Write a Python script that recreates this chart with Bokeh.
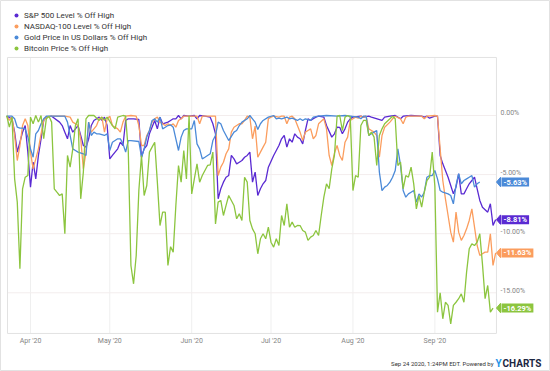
from datetime import datetime, timedelta
from bokeh.plotting import figure
from bokeh.models import Range1d, Label, PolyAnnotation, Legend, LegendItem
from bokeh.core.properties import value
from bokeh.embed import file_html
from bokeh.resources import INLINE

# ---------------- data ----------------
START = datetime(2020, 3, 23)          # day 0 of the series below
NAMES = ["S&P 500 Level % Off High", "NASDAQ-100 Level % Off High",
         "Gold Price in US Dollars % Off High", "Bitcoin Price % Off High"]
COLORS = ["#5a2ad2", "#fb9d5e", "#4b8ad8", "#8cc53f"]
Y_TICKS = [0, -5, -10, -15]
MONTH_TICKS = [datetime(2020, m, 1) for m in range(4, 10)]
FOOTER = "Sep 24 2020, 1:24PM EDT. Powered by"

# (days since START, % off high)
spx = [(0,-0.06),(2,-0.28),(3,-1.41),(4,-3.1),(5,-2.26),(6,-1.41),(7,-0.85),(8,-3.1),(9,-6.06),(10,-3.95),
       (11,-5.36),(12,-3.38),(13,-1.97),(14,-0.42),(15,-0.14),(17,-0.06),(20,-0.56),(21,-0.85),(22,-1.41),(23,-1.97),
       (24,-0.85),(25,-1.41),(27,-0.85),(28,-1.69),(29,-2.54),(30,-2.68),(31,-2.0),(32,-0.85),(33,-0.42),(35,-0.14),
       (36,-0.42),(37,-0.14),(38,-0.85),(39,-3.67),(40,-3.38),(42,-2.82),(43,-2.26),(44,-2.54),(45,-0.42),(46,-0.28),
       (48,-0.28),(50,-0.34),(51,-3.53),(52,-2.82),(53,-2.54),(54,-1.55),(56,-0.42),(57,-1.13),(58,-0.14),(59,-0.7),
       (61,-0.56),(62,-0.42),(63,-0.28),(64,-0.28),(65,0),(66,-0.28),(67,0),(69,-0.06),(71,0),(72,-0.28),
       (73,0),(75,-0.06),(77,-0.14),(78,-0.7),(79,-1.55),(80,-7.05),(81,-6.2),(82,-5.64),(83,-5.22),(84,-5.08),
       (85,-3.38),(86,-3.67),(87,-4.09),(88,-3.95),(89,-3.81),(90,-3.53),(91,-3.38),(92,-3.1),(93,-5.64),(94,-4.79),
       (95,-6.77),(96,-6.2),(97,-5.78),(98,-5.5),(99,-4.37),(101,-3.38),(102,-2.96),(103,-2.54),(104,-1.97),(105,-1.69),
       (106,-2.68),(107,-1.97),(108,-2.26),(109,-1.55),(110,-1.83),(111,-1.97),(112,-2.4),(113,-1.27),(114,-0.28),(115,-0.42),
       (116,-0.28),(117,-0.14),(118,-0.06),(120,-0.14),(121,-0.85),(123,-1.83),(124,-1.55),(125,-0.99),(126,-1.0),(127,-1.55),
       (128,-1.13),(129,-0.56),(130,-0.28),(131,-0.14),(134,-0.06),(135,-0.14),(137,-0.06),(138,-0.14),(142,-0.42),(143,-0.14),
       (145,-0.06),(147,0),(149,-0.28),(150,-0.06),(153,0),(157,-0.06),(158,-0.14),(159,-0.06),(160,-0.23),(162,-0.06),
       (163,-0.06),(164,-3.38),(165,-4.09),(166,-4.65),(167,-5.22),(168,-5.92),(169,-6.63),(170,-6.06),(171,-4.93),(172,-6.63),
       (173,-6.63),(174,-6.2),(175,-5.78),(176,-5.5),(177,-5.22),(178,-6.2),(179,-7.19),(180,-7.76),(182,-8.18),(183,-7.47),
       (184,-9.31),(185,-8.81)]

ndx = [(0,-0.06),(1,-0.42),(2,-0.14),(3,-1.69),(4,-3.81),(5,-2.54),(6,-0.85),(7,-0.28),(8,-0.85),(9,-3.1),
       (10,-4.51),(11,-3.67),(12,-2.82),(13,-1.55),(14,-0.42),(15,-0.14),(17,-0.06),(22,-0.06),(24,-0.14),(25,-0.56),
       (27,-0.85),(28,-1.97),(29,-4.51),(30,-3.1),(31,-0.56),(32,-1.41),(34,-0.85),(35,-0.28),(36,-0.14),(37,-1.41),
       (38,-0.28),(39,-0.06),(40,-0.85),(42,-1.13),(43,-1.41),(44,-0.56),(45,-0.06),(47,0),(49,-0.06),(50,-0.85),
       (51,-2.54),(52,-2.54),(53,-1.69),(54,-1.27),(55,-0.56),(56,-0.28),(57,-0.14),(58,-0.56),(60,-0.85),(61,-0.7),
       (62,-0.85),(63,-0.7),(64,-0.99),(65,-0.42),(66,-0.28),(67,-0.06),(72,-0.06),(73,-0.7),(74,-0.06),(79,-0.06),
       (80,-5.08),(81,-4.37),(82,-3.95),(83,-3.24),(84,-2.82),(85,-1.41),(86,-0.99),(88,-0.7),(89,-0.7),(90,-0.42),
       (91,-0.06),(92,-0.14),(93,-1.97),(94,-0.9),(95,-3.53),(96,-3.1),(97,-2.68),(98,-2.26),(99,-0.28),(100,-0.14),
       (101,-0.06),(103,-0.14),(104,-0.06),(105,-0.06),(106,-0.7),(107,-0.14),(108,-0.06),(109,-0.28),(110,-0.85),(111,-1.41),
       (112,-2.12),(113,-1.41),(114,-1.27),(115,-1.13),(116,-1.97),(117,-1.69),(118,-0.7),(120,-0.28),(121,-1.13),(122,-3.38),
       (123,-4.23),(124,-3.2),(125,-2.54),(126,-3.38),(127,-3.81),(128,-2.26),(129,-1.83),(130,-0.42),(131,-0.28),(132,-0.14),
       (133,-0.23),(134,-0.06),(135,-0.14),(136,-0.06),(137,-1.13),(138,-1.27),(139,-1.41),(140,-1.69),(141,-3.53),(142,-1.69),
       (143,-0.99),(145,-0.56),(146,-0.28),(147,-0.06),(149,-0.28),(150,-0.7),(151,-0.14),(152,-0.06),(157,-0.06),(158,-0.28),
       (159,-0.06),(162,0),(163,-0.06),(164,-2.82),(165,-5.5),(166,-7.05),(167,-8.46),(168,-9.87),(169,-10.72),(170,-8.18),
       (171,-9.87),(172,-10.57),(173,-10.15),(174,-9.59),(175,-8.88),(176,-7.9),(177,-9.45),(178,-11.0),(179,-11.84),(180,-11.7),
       (181,-11.56),(182,-11.56),(183,-10.01),(184,-12.69),(185,-11.63)]

gold = [(0,-0.06),(2,-0.06),(3,-0.28),(4,-0.99),(5,-1.07),(6,-1.07),(7,-1.13),(8,-1.83),(9,-2.82),(10,-3.53),
        (11,-1.55),(12,-1.27),(13,-0.7),(14,-0.28),(15,-0.06),(22,-0.06),(23,-0.56),(25,-2.82),(26,-2.96),(27,-3.1),
        (29,-3.24),(30,-3.38),(31,-0.56),(32,-1.69),(33,-1.41),(34,-1.55),(35,-1.55),(37,-1.69),(38,-1.55),(39,-2.96),
        (40,-2.26),(42,-1.97),(43,-1.97),(44,-2.4),(45,-3.1),(46,-2.12),(47,-2.12),(50,-2.2),(51,-3.53),(52,-2.82),
        (53,-1.83),(54,-1.27),(55,-0.42),(56,-0.28),(57,-0.56),(58,-0.14),(59,-1.13),(60,-0.99),(61,-0.85),(62,-0.79),
        (63,-0.99),(64,-1.97),(65,-2.96),(66,-1.83),(67,-1.27),(68,-1.13),(70,-1.13),(71,-0.42),(72,-2.4),(73,-2.82),
        (74,-3.67),(75,-3.53),(76,-3.38),(77,-3.24),(78,-2.12),(79,-1.69),(80,-0.56),(81,-0.7),(82,-1.27),(83,-1.69),
        (84,-2.12),(86,-1.41),(87,-1.27),(88,-0.85),(89,-0.56),(91,-0.28),(92,0),(93,-0.28),(94,-0.56),(95,-1.18),
        (96,-0.7),(97,-0.42),(99,-0.14),(101,0),(102,-0.28),(103,-0.23),(104,-0.28),(106,-0.14),(107,-0.28),(108,-0.23),
        (110,-0.42),(111,-0.28),(112,-0.42),(113,-0.28),(115,-0.42),(116,-0.14),(118,-0.06),(121,0),(125,-0.06),(128,0),
        (133,-0.14),(134,-0.28),(135,-0.06),(136,-0.06),(137,-1.69),(138,-1.55),(139,-1.41),(140,-1.27),(141,-4.79),(142,-6.35),
        (143,-6.06),(144,-5.92),(145,-5.64),(146,-5.22),(147,-4.65),(148,-2.82),(149,-4.2),(150,-6.35),(151,-6.91),(152,-6.63),
        (153,-6.49),(154,-6.35),(155,-7.33),(156,-6.63),(157,-6.9),(158,-6.49),(159,-5.22),(160,-5.08),(161,-5.08),(162,-4.65),
        (163,-5.36),(164,-6.35),(165,-6.49),(167,-6.63),(168,-6.77),(169,-7.47),(170,-5.92),(171,-4.93),(172,-5.78),(173,-5.5),
        (174,-5.36),(175,-5.22),(176,-5.08),(177,-6.06),(178,-5.78),(179,-5.63)]

btc = [(0,0),(1,-0.99),(2,-0.14),(3,-5.36),(4,-7.33),(5,-12.97),(6,-6.2),(7,-5.22),(8,-5.08),(9,-0.14),
       (10,-0.7),(11,0),(12,-0.56),(13,0),(14,-1.97),(15,-0.28),(16,-0.06),(17,-0.56),(18,-6.2),(19,-6.49),
       (20,-6.77),(21,-6.63),(22,-10.0),(23,-3.38),(24,-4.37),(25,-2.82),(26,-0.85),(27,-0.28),(28,-7.05),(29,-4.79),
       (30,-0.28),(31,0),(33,0),(35,-0.42),(36,-0.14),(37,-0.42),(38,-0.14),(40,-0.85),(41,-1.13),(42,-0.14),
       (44,0),(45,-0.06),(46,-3.0),(47,-12.69),(48,-14.24),(49,-11.84),(50,-6.35),(51,-3.38),(52,-6.77),(53,-5.92),
       (54,-3.1),(55,-2.68),(56,-2.26),(57,-5.64),(58,-9.31),(59,-8.18),(60,-8.18),(61,-12.69),(62,-11.1),(63,-11.56),
       (64,-7.61),(65,-4.23),(66,-5.64),(67,-2.96),(68,-5.36),(69,0),(70,-6.63),(71,-5.36),(72,-4.09),(73,-5.64),
       (74,-5.08),(75,-4.65),(76,-4.23),(77,-4.17),(78,-3.1),(79,-9.17),(80,-7.33),(81,-7.19),(82,-8.46),(83,-7.61),
       (84,-6.77),(86,-7.61),(87,-8.74),(88,-8.32),(89,-8.88),(90,-5.22),(91,-5.64),(92,-8.88),(93,-9.59),(94,-10.0),
       (95,-11.7),(96,-10.43),(97,-10.0),(98,-10.43),(99,-9.45),(100,-10.72),(101,-11.14),(102,-10.43),(103,-11.0),(104,-8.46),
       (105,-9.31),(106,-7.47),(107,-9.45),(108,-9.02),(109,-9.45),(110,-9.3),(111,-9.31),(112,-9.73),(113,-9.87),(114,-10.57),
       (115,-10.29),(116,-10.15),(117,-9.73),(118,-10.15),(119,-8.46),(120,-6.91),(121,-5.78),(122,-6.2),(123,-4.51),(124,-3.38),
       (125,-0.06),(126,0),(127,-1.27),(128,-0.14),(129,0),(130,-0.14),(131,-6.35),(132,-5.08),(133,-5.22),(134,-0.85),
       (135,-0.42),(136,-0.42),(137,-1.69),(138,-1.41),(139,-1.83),(140,-4.23),(141,-1.69),(142,-1.13),(143,-0.7),(145,-0.28),
       (146,-0.06),(147,-0.28),(148,-4.23),(149,-3.95),(150,-6.2),(151,-5.08),(152,-5.22),(153,-4.37),(154,-5.78),(155,-7.9),
       (156,-6.77),(157,-7.76),(158,-6.49),(159,-5.5),(160,-5.22),(161,-3.1),(162,-6.0),(163,-16.64),(164,-15.0),(165,-17.2),
       (166,-15.8),(167,-16.07),(168,-17.63),(169,-16.07),(170,-15.8),(171,-15.5),(172,-15.09),(173,-15.8),(174,-13.25),(175,-11.28),
       (176,-10.86),(177,-11.0),(178,-10.72),(179,-10.01),(180,-12.55),(181,-15.5),(182,-14.38),(183,-16.64),(184,-16.29)]

SERIES = [spx, ndx, gold, btc]

# ---------------- layout constants ----------------
def day(d):
    return START + timedelta(days=d)

BOX_LEFT, BOX_RIGHT = day(0.3), day(185.3)      # visible plotting box (time)
BOX_TOP, BOX_BOTTOM = 4.91, -18.44              # visible plotting box (% off high)
FONT = "Roboto"
TICK_COLOR = "#858585"

# The frame covers the whole canvas so that texts outside the box are not clipped
p = figure(width=550, height=371, x_axis_type="datetime",
           x_axis_location=None, y_axis_location=None,
           output_backend="svg", toolbar_location=None,
           x_range=Range1d(day(-2.346), day(205.75)), y_range=Range1d(-21.66, 9.73),
           min_border=0, background_fill_color="white", border_fill_color="white")
p.grid.visible = False
p.outline_line_color = "#e2e2e2"

# grid lines and box
p.segment(x0=MONTH_TICKS, x1=MONTH_TICKS, y0=[BOX_BOTTOM] * len(MONTH_TICKS),
          y1=[BOX_TOP] * len(MONTH_TICKS), line_color="#efefef", line_width=1)
p.segment(x0=[BOX_LEFT] * len(Y_TICKS), x1=[BOX_RIGHT] * len(Y_TICKS), y0=Y_TICKS, y1=Y_TICKS,
          line_color="#f3eded", line_width=1)
p.quad(left=[BOX_LEFT], right=[BOX_RIGHT], top=[BOX_TOP], bottom=[BOX_BOTTOM],
       fill_alpha=0, line_color="#e2e2e2", line_width=1)

# tick labels
p.text(x=MONTH_TICKS, y=[BOX_BOTTOM] * len(MONTH_TICKS),
       text=[m.strftime("%b '%y") for m in MONTH_TICKS],
       text_align="center", text_baseline="top", y_offset=4,
       text_font=value(FONT), text_font_size=value("7px"), text_color=TICK_COLOR)
p.text(x=[BOX_RIGHT] * len(Y_TICKS), y=Y_TICKS, text=[f"{t:.2f}%" for t in Y_TICKS],
       text_align="left", text_baseline="middle", x_offset=4, y_offset=-2,
       text_font=value(FONT), text_font_size=value("7px"), text_color=TICK_COLOR)

items = []
for name, color, data in zip(NAMES, COLORS, SERIES):
    xs = [day(d) for d, v in data]
    ys = [v for d, v in data]
    p.line(xs, ys, line_color=color, line_width=1.3)
    # zero-size marker at the first point: only used for the legend's dot
    dot = p.scatter(x=xs[:1], y=ys[:1], size=0, fill_color=color, line_color=None)
    items.append(LegendItem(label=name, renderers=[dot]))

for color, data in zip(COLORS, SERIES):
    last = data[-1][1]
    p.add_layout(PolyAnnotation(xs=[496, 500, 500], ys=[last, last + 0.4, last - 0.4],
                                xs_units="screen", ys_units="data",
                                fill_color=color, fill_alpha=1, line_color=color, line_alpha=1))
    p.add_layout(Label(x=501, y=last, x_units="screen", y_units="data", text=f"{last:.2f}%",
                       text_color="white", text_font_style="bold", text_font_size="7.5px",
                       text_font=FONT, text_baseline="middle", padding=(2, 0),
                       background_fill_color=color, background_fill_alpha=1))

legend = Legend(items=items, location=(11, 318), orientation="vertical",
                glyph_height=10, glyph_width=10, label_height=10, spacing=1,
                padding=0, margin=0, label_standoff=3,
                border_line_color=None, background_fill_alpha=0,
                label_text_font_size="8px", label_text_font=FONT, label_text_color="#333333")
p.add_layout(legend)

p.add_layout(Label(x=493, y=8, x_units="screen", y_units="screen", text=FOOTER,
                   text_align="right", text_baseline="middle", text_font_size="6px",
                   text_font=FONT, text_color="#333333"))
p.add_layout(Label(x=495, y=8, x_units="screen", y_units="screen", text="Y",
                   text_align="left", text_baseline="middle", text_font_size="10px",
                   text_font=FONT, text_font_style="bold", text_color="#2391e6"))
p.add_layout(Label(x=502, y=8, x_units="screen", y_units="screen", text="CHARTS",
                   text_align="left", text_baseline="middle", text_font_size="10px",
                   text_font=FONT, text_font_style="bold", text_color="#1c2642"))

open("out.html", "w").write(file_html(p, INLINE))
